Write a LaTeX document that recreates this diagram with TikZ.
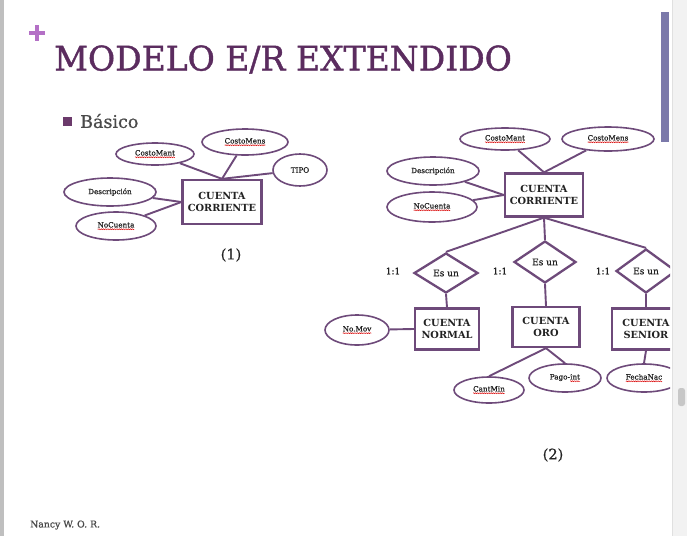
\documentclass[tikz,border=0pt]{standalone}
\usepackage{fontspec}
\setmainfont{DejaVu Serif}
\newfontfamily\heavyserif{DejaVu Serif}[FakeBold=0.8]
\newfontfamily\titleserif{DejaVu Serif}[FakeBold=1.2]
\usetikzlibrary{shapes.geometric,decorations.pathmorphing}

\definecolor{erline}{HTML}{6E4A7A}
\definecolor{titlecol}{HTML}{5B2C5F}
\definecolor{pluscol}{HTML}{B470C6}
\definecolor{barcol}{HTML}{7B79AA}
\definecolor{bulletcol}{HTML}{6B3A6B}
\definecolor{graytext}{HTML}{4A4A4A}
\definecolor{inktext}{HTML}{222222}

% red spell-check style wave under a word
\newcommand\spellwave[1]{\tikz[baseline=(w.base)]{%
  \node[shape=rectangle, draw=none, fill=none, inner sep=0pt, outer sep=0pt,
        minimum width=0pt, minimum height=0pt] (w) {#1};
  \draw[draw=red!85!black, line width=0.4pt, decorate,
        decoration={snake, amplitude=0.5pt, segment length=1.8pt}]
    ([yshift=-1.8pt]w.base west) -- ([yshift=-1.8pt]w.base east);}}

\tikzset{
  entbox/.style={draw=erline, line width=2.3pt, fill=white, inner sep=0pt,
    align=center, text=inktext, font=\bfseries\fontsize{9.8}{11.5}\selectfont},
  attr/.style={ellipse, draw=erline, line width=1.6pt, fill=white, inner sep=0pt,
    text=inktext, font=\heavyserif\fontsize{7.2}{8}\selectfont},
  isa/.style={diamond, draw=erline, line width=2.3pt, fill=white, inner sep=0pt,
    text=inktext, font=\heavyserif\fontsize{9}{10}\selectfont},
  conn/.style={draw=erline, line width=1.9pt},
  card/.style={text=inktext, font=\heavyserif\fontsize{9}{10}\selectfont, inner sep=0pt},
}

\begin{document}
\begin{tikzpicture}[x=1pt,y=-1pt]
\useasboundingbox (0,0) rectangle (687,536);
\fill[white] (0,0) rectangle (687,536);

\begin{scope}
\clip (4,0) rectangle (670,536);

% header
\fill[pluscol] (29,31) rectangle (45,35);
\fill[pluscol] (35,25) rectangle (39,41);
\node[anchor=west, inner sep=0pt, text=titlecol] (title) at (54,59.5)
  {\scalebox{0.972}[1]{\titleserif\fontsize{34}{36}\selectfont MODELO E/R EXTENDIDO}};
\fill[barcol] (661,12) rectangle (669,142);
\fill[bulletcol] (63,117) rectangle (72,126);
\node[anchor=west, inner sep=0pt, text=graytext, font=\heavyserif\fontsize{17.5}{19}\selectfont] (basico) at (80,121) {Básico};

% ---- (1) basic entity with attributes
\node[entbox, minimum width=79pt, minimum height=44pt] (Lbox) at (222,202) {CUENTA\\CORRIENTE};
\node[attr, minimum width=78pt, minimum height=22pt] (Lcm) at (155,154) {\spellwave{CostoMant}};
\node[attr, minimum width=86pt, minimum height=26pt] (Lcms) at (245,142) {\spellwave{CostoMens}};
\node[attr, minimum width=54pt, minimum height=32pt] (Ltipo) at (300,170) {TIPO};
\node[attr, minimum width=92pt, minimum height=28pt] (Ldesc) at (110,192) {Descripción};
\node[attr, minimum width=80pt, minimum height=28pt] (Lnoc) at (116,226) {\spellwave{NoCuenta}};
\draw[conn] (Lcm) -- (Lbox.north);
\draw[conn] (Lcms) -- (Lbox.north);
\draw[conn] (Ltipo) -- (Lbox.north);
\draw[conn] (Ldesc) -- (Lbox.west);
\draw[conn] (Lnoc) -- (Lbox.west);
\node[inner sep=0pt, text=inktext, font=\heavyserif\fontsize{14.5}{16}\selectfont] (lab1) at (231,255) {(1)};

% ---- (2) specialisation
\node[entbox, minimum width=78pt, minimum height=43pt] (Rbox) at (544,195) {CUENTA\\CORRIENTE};
\node[attr, minimum width=90pt, minimum height=22pt] (Rcm) at (505,139) {\spellwave{CostoMant}};
\node[attr, minimum width=92pt, minimum height=24pt] (Rcms) at (608,139) {\spellwave{CostoMens}};
\node[attr, minimum width=92pt, minimum height=28pt] (Rdesc) at (433,171) {Descripción};
\node[attr, minimum width=90pt, minimum height=30pt] (Rnoc) at (432,207) {\spellwave{NoCuenta}};
\draw[conn] (Rcm) -- (Rbox.north);
\draw[conn] (Rcms) -- (Rbox.north);
\draw[conn] (Rdesc) -- (Rbox.west);
\draw[conn] (Rnoc) -- (Rbox.west);

\node[isa, minimum width=64pt, minimum height=40pt] (d1) at (446,273) {Es un};
\node[isa, minimum width=62pt, minimum height=42pt] (d2) at (545,262) {Es un};
\node[isa, minimum width=60pt, minimum height=44pt] (d3) at (646,271) {Es un};
\draw[conn] (Rbox.south) -- (d1.north);
\draw[conn] (Rbox.south) -- (d2.north);
\draw[conn] (Rbox.south) -- (d3.north);
\node[card] (c1) at (393,271) {1:1};
\node[card] (c2) at (500,271) {1:1};
\node[card] (c3) at (603,271) {1:1};

\node[entbox, minimum width=64pt, minimum height=41pt] (bn) at (447,329) {CUENTA\\NORMAL};
\node[entbox, minimum width=67pt, minimum height=40pt] (bo) at (546,327) {CUENTA\\ORO};
\node[entbox, minimum width=68pt, minimum height=41pt] (bs) at (646,329) {CUENTA\\SENIOR};
\draw[conn] (d1.south) -- (bn.north);
\draw[conn] (d2.south) -- (bo.north);
\draw[conn] (d3.south) -- (bs.north);

\node[attr, minimum width=64pt, minimum height=30pt] (nomov) at (357,330) {\spellwave{No.Mov}};
\node[attr, minimum width=70pt, minimum height=26pt] (cant) at (489,390) {\spellwave{CantMin}};
\node[attr, minimum width=72pt, minimum height=28pt] (pago) at (565,378) {Pago-\spellwave{int}};
\node[attr, minimum width=74pt, minimum height=28pt] (fecha) at (644,378) {\spellwave{FechaNac}};
\draw[conn] (nomov) -- (bn.west);
\draw[conn] (cant.north) -- (bo.south);
\draw[conn] (pago.north) -- (bo.south);
\draw[conn] (fecha.north) -- (bs.south);
\node[inner sep=0pt, text=inktext, font=\heavyserif\fontsize{14.5}{16}\selectfont] (lab2) at (553,455) {(2)};

% footer
\node[anchor=west, inner sep=0pt, text=graytext, font=\heavyserif\fontsize{9.3}{10}\selectfont] (author) at (30,525) {Nancy W. O. R.};
\end{scope}

% window edges
\fill[black!25] (0,0) rectangle (4,536);
\fill[black!5] (672,0) rectangle (687,536);
\draw[black!12, line width=0.6pt] (672,0) -- (672,536);
\fill[black!22, rounded corners=2.5pt] (678,388) rectangle (685,406);
\end{tikzpicture}
\end{document}
